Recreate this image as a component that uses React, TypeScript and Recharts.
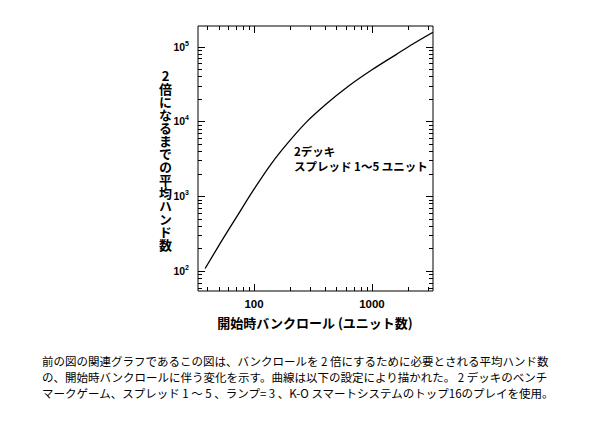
import React from "react";
import { LineChart, Line, XAxis, YAxis } from "recharts";

// starting bankroll (units) vs average hands to double it
const bankroll = [38.5, 50, 71, 100, 141, 200, 282, 400, 630, 1000, 1600, 2240, 3290];
const hands = [108, 215, 524, 1240, 2750, 5480, 10000, 16500, 29400, 48800, 78000, 109000, 155000];

const xMajor = [100, 1000];
const xMinor = [40, 50, 60, 70, 80, 90, 200, 300, 400, 500, 600, 700, 800, 900, 2000, 3000];
const yMajor = [100, 1000, 10000, 100000];
const yExp: Record<number, string> = { 100: "2", 1000: "3", 10000: "4", 100000: "5" };
const yMinor = [
  60, 70, 80, 90,
  200, 300, 400, 500, 600, 700, 800, 900,
  2000, 3000, 4000, 5000, 6000, 7000, 8000, 9000,
  20000, 30000, 40000, 50000, 60000, 70000, 80000, 90000,
];

const xLabel = "開始時バンクロール (ユニット数)";
const yLabel = "2倍になるまでの平均ハンド数";
const note = ["2デッキ", "スプレッド 1〜5 ユニット"];
const caption = [
  "前の図の関連グラフであるこの図は、バンクロールを 2 倍にするために必要とされる平均ハンド数",
  "の、開始時バンクロールに伴う変化を示す。曲線は以下の設定により描かれた。 2 デッキのベンチ",
  "マークゲーム、スプレッド 1 〜 5 、ランプ= 3 、K-O スマートシステムのトップ16のプレイを使用。",
];

const data = bankroll.map((b, i) => ({ b, h: hands[i] }));
const xTicks = [...xMinor, ...xMajor].sort((a, b) => a - b);
const yTicks = [...yMinor, ...yMajor].sort((a, b) => a - b);

const jp = '"Noto Sans CJK JP", sans-serif';
const num = '"Liberation Sans", Arial, sans-serif';

// tickSize 0 + tickMargin 0 => recharts gives the tick the point on the axis line
const px = (v: number) => Math.round(v) + 0.5;

const XTick = (props: any) => {
  const { x, y, payload, top } = props;
  const major = xMajor.includes(payload.value);
  const len = major ? 7 : 4;
  const dir = top ? 1 : -1; // inward
  const cx = px(x);
  return (
    <g>
      <path d={`M${cx},${y}L${cx},${y + dir * len}`} stroke="#000" strokeWidth={1} fill="none" />
      {major && !top && (
        <text x={x} y={y + 17} textAnchor="middle" fontFamily={num} fontWeight="bold" fontSize={11.5} fill="#000">
          {payload.value}
        </text>
      )}
    </g>
  );
};

const YTick = (props: any) => {
  const { x, y, payload, right } = props;
  const major = yMajor.includes(payload.value);
  const len = major ? 7 : 4;
  const dir = right ? -1 : 1; // inward
  const cy = px(y);
  return (
    <g>
      <path d={`M${x},${cy}L${x + dir * len},${cy}`} stroke="#000" strokeWidth={1} fill="none" />
      {major && !right && (
        <text x={x - 9} y={y + 4} textAnchor="end" fontFamily={num} fontWeight="bold" fontSize={10.5} fill="#000">
          10
          <tspan dy={-5} fontSize={7}>
            {yExp[payload.value]}
          </tspan>
        </text>
      )}
    </g>
  );
};

const xCommon = {
  dataKey: "b",
  type: "number" as const,
  scale: "log" as const,
  domain: [33.5, 3290],
  allowDataOverflow: true,
  ticks: xTicks,
  interval: 0,
  tickSize: 0,
  tickMargin: 0,
  tickLine: false,
  axisLine: { stroke: "#000" },
};

const yCommon = {
  dataKey: "h",
  type: "number" as const,
  scale: "log" as const,
  domain: [54, 188000],
  allowDataOverflow: true,
  ticks: yTicks,
  interval: 0,
  tickSize: 0,
  tickMargin: 0,
  tickLine: false,
  axisLine: { stroke: "#000" },
};

export default function App() {
  return (
    <div style={{ position: "absolute", left: 0, top: 0, width: 600, height: 425, background: "#fff" }}>
      <LineChart width={600} height={340} data={data} margin={{ top: 25, right: 166, bottom: 19, left: 158 }}>
        <XAxis xAxisId={0} {...xCommon} height={30} tick={<XTick />} />
        <XAxis xAxisId="top" orientation="top" {...xCommon} height={1} tick={<XTick top />} />
        <YAxis yAxisId={0} {...yCommon} width={40} tick={<YTick />} />
        <YAxis yAxisId="right" orientation="right" {...yCommon} width={1} tick={<YTick right />} />
        <Line
          xAxisId={0}
          yAxisId={0}
          type="monotone"
          dataKey="h"
          stroke="#000"
          strokeWidth={1.3}
          dot={false}
          isAnimationActive={false}
        />
      </LineChart>

      <div
        style={{
          position: "absolute",
          left: 158,
          top: 70,
          width: 14,
          writingMode: "vertical-rl",
          textOrientation: "upright",
          fontFamily: jp,
          fontWeight: "bold",
          fontSize: 13,
          lineHeight: "14px",
          color: "#000",
        }}
      >
        {yLabel}
      </div>

      <div
        style={{
          position: "absolute",
          left: 165,
          width: 300,
          top: 313,
          textAlign: "center",
          fontFamily: jp,
          fontWeight: "bold",
          fontSize: 13,
          lineHeight: "20px",
          color: "#000",
          whiteSpace: "nowrap",
        }}
      >
        {xLabel}
      </div>

      <div
        style={{
          position: "absolute",
          left: 294,
          top: 144,
          fontFamily: jp,
          fontWeight: "bold",
          fontSize: 11.5,
          lineHeight: "15px",
          color: "#000",
          whiteSpace: "nowrap",
        }}
      >
        {note.map((t) => (
          <div key={t}>{t}</div>
        ))}
      </div>

      <div
        style={{
          position: "absolute",
          left: 42,
          top: 353,
          fontFamily: jp,
          fontSize: 11.5,
          lineHeight: "16px",
          color: "#000",
          whiteSpace: "nowrap",
        }}
      >
        {caption.map((t) => (
          <div key={t}>{t}</div>
        ))}
      </div>
    </div>
  );
}
